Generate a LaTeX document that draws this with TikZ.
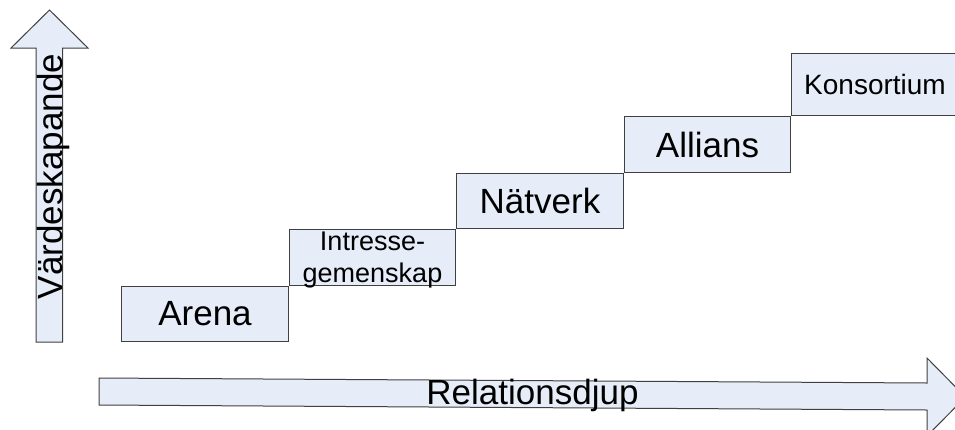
\documentclass[tikz,border=0pt]{standalone}
\usepackage{fontspec}
\setmainfont{Liberation Sans}
\definecolor{stegfyll}{RGB}{230,236,248}
\definecolor{stegkant}{RGB}{64,64,64}
\tikzset{
  steg/.style={draw=stegkant, fill=stegfyll, line width=1pt, inner sep=0pt,
    minimum width=166.5pt, minimum height=55.5pt, font=\fontsize{35}{40}\selectfont},
  pil/.style={draw=stegkant, fill=stegfyll, line width=1pt, line join=miter},
  axeltext/.style={inner sep=0pt, anchor=base, font=\fontsize{35}{40}\selectfont}
}
\begin{document}
\begin{tikzpicture}[x=1pt,y=-1pt]
\clip (0,0) rectangle (955,429);
% axlar
\draw[pil] (36,342)--(36,48)--(11,48)--(49.5,10)--(88,48)--(62.5,48)--(62.5,342)--cycle;
\draw[pil] (99,378)--(927,383)--(927,358)--(965.5,397)--(927,436)--(927,410)--(99,405)--cycle;
\node (varde) at (62,176.5)[axeltext,rotate=90]{Värdeskapande};
\node (djup) at (532.5,404)[axeltext]{Relationsdjup};
% trappsteg
\node (arena) at (205,314)[steg]{Arena};
\node (intresse) at (arena.north east)[steg,anchor=south west,align=center,font=\fontsize{27}{32}\selectfont]{Intresse-\\\raisebox{0pt}[\height][0pt]{gemenskap}};
\node (natverk) at (intresse.north east)[steg,anchor=south west]{Nätverk};
\node (allians) at (natverk.north east)[steg,anchor=south west]{Allians};
\node (konsortium) at (allians.north east)[steg,anchor=south west,minimum height=62pt,font=\fontsize{28}{32}\selectfont]{Konsortium};
\end{tikzpicture}
\end{document}
